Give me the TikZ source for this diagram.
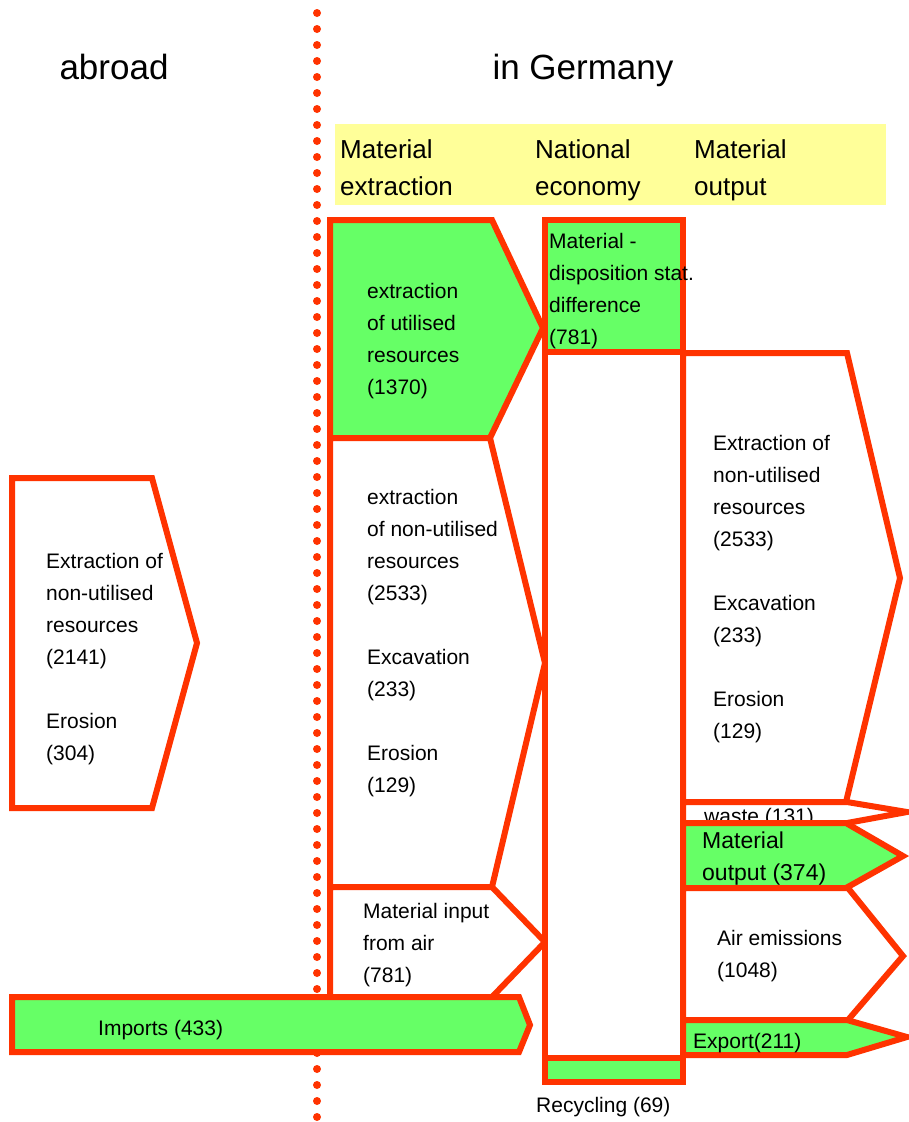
\documentclass[tikz,border=0pt]{standalone}
\usepackage{fontspec}
\setmainfont{Liberation Sans}
\definecolor{myred}{HTML}{FF3300}
\definecolor{mygreen}{HTML}{66FF66}
\definecolor{myyellow}{HTML}{FFFF99}
\tikzset{
  box/.style={draw=myred, line width=6pt, line join=miter, fill=white},
  gbox/.style={box, fill=mygreen},
  txt/.style={anchor=north west, inner sep=0pt, align=left, font=\fontsize{21}{32}\selectfont},
  stxt/.style={anchor=base west, inner sep=0pt, font=\fontsize{21}{32}\selectfont},
  htxt/.style={anchor=north west, inner sep=0pt, align=left, font=\fontsize{26}{37}\selectfont},
  ttxt/.style={anchor=base, inner sep=0pt, font=\fontsize{35}{42}\selectfont},
  dotc/.style={fill=myred}
}
\begin{document}
\begin{tikzpicture}[x=1pt,y=-1pt]
\useasboundingbox (0,0) rectangle (909,1122);
% dotted border line
\foreach \i in {0,...,69} \fill[dotc] (317,13+16*\i) circle (4pt);
% titles
\node[ttxt] (abroad) at (114,79) {abroad};
\node[ttxt] (germany) at (583,79) {in Germany};
% header band
\fill[myyellow] (335,124) rectangle (886,205);
\node[htxt] (h1) at (340,132.1) {\strut Material\\extraction};
\node[htxt] (h2) at (535,132.1) {\strut National\\economy};
\node[htxt] (h3) at (694,132.1) {\strut Material\\output};
% abroad box
\draw[box] (12,478) -- (152,478) -- (197,643) -- (152,808) -- (12,808) -- cycle;
% left column
\draw[gbox] (330,220) -- (492,220) -- (543,328) -- (490,438) -- (330,438) -- cycle;
\draw[box] (330,438) -- (490,438) -- (545,663) -- (492,887) -- (330,887) -- cycle;
\draw[box] (330,887) -- (492,887) -- (545,942) -- (492,997) -- (330,997) -- cycle;
% imports
\draw[gbox] (12,997) -- (519,997) -- (530,1025) -- (519,1052) -- (12,1052) -- cycle;
% middle column
\draw[gbox] (545,220) rectangle (683,352);
\draw[box] (545,352) rectangle (683,1058);
\draw[gbox] (545,1058) rectangle (683,1082);
% right column
\draw[box] (683,353) -- (847,353) -- (900,578) -- (846,802) -- (683,802) -- cycle;
\draw[box] (683,802) -- (847,802) -- (907,812) -- (847,823) -- (683,823) -- cycle;
\node[stxt] (waste) at (704,823) {waste (131)};
\draw[gbox] (683,823) -- (846,823) -- (903,856) -- (846,888) -- (683,888) -- cycle;
\draw[box] (683,888) -- (848,888) -- (903,956) -- (848,1020) -- (683,1020) -- cycle;
\draw[gbox] (683,1020) -- (847,1020) -- (907,1037) -- (847,1055) -- (683,1055) -- cycle;
% texts
\node[txt] (abr) at (46,545.6) {\strut Extraction of\\non-utilised\\resources\\(2141)\\[32pt]Erosion\\(304)};
\node[txt] (util) at (367,275.6) {\strut extraction\\of utilised\\resources\\(1370)};
\node[txt] (nonutil) at (367,481.6) {\strut extraction\\of non-utilised\\resources\\(2533)\\[32pt]Excavation\\(233)\\[32pt]Erosion\\(129)};
\node[txt] (air) at (363,895.6) {\strut Material input\\from air\\(781)};
\node[stxt] (imports) at (98,1035) {Imports (433)};
\node[txt] (disp) at (549,225.6) {\strut Material -\\disposition stat.\\difference\\(781)};
\node[txt] (outnon) at (713,427.6) {\strut Extraction of\\non-utilised\\resources\\(2533)\\[32pt]Excavation\\(233)\\[32pt]Erosion\\(129)};
\node[anchor=north west, inner sep=0pt, align=left, font=\fontsize{23}{32}\selectfont] (matout) at (702,825.6) {\strut Material\\output (374)};
\node[txt] (airem) at (717,922.6) {\strut Air emissions\\(1048)};
\node[stxt] (export) at (693,1048) {Export(211)};
\node[stxt] (recyc) at (536,1112) {Recycling (69)};
\end{tikzpicture}
\end{document}
